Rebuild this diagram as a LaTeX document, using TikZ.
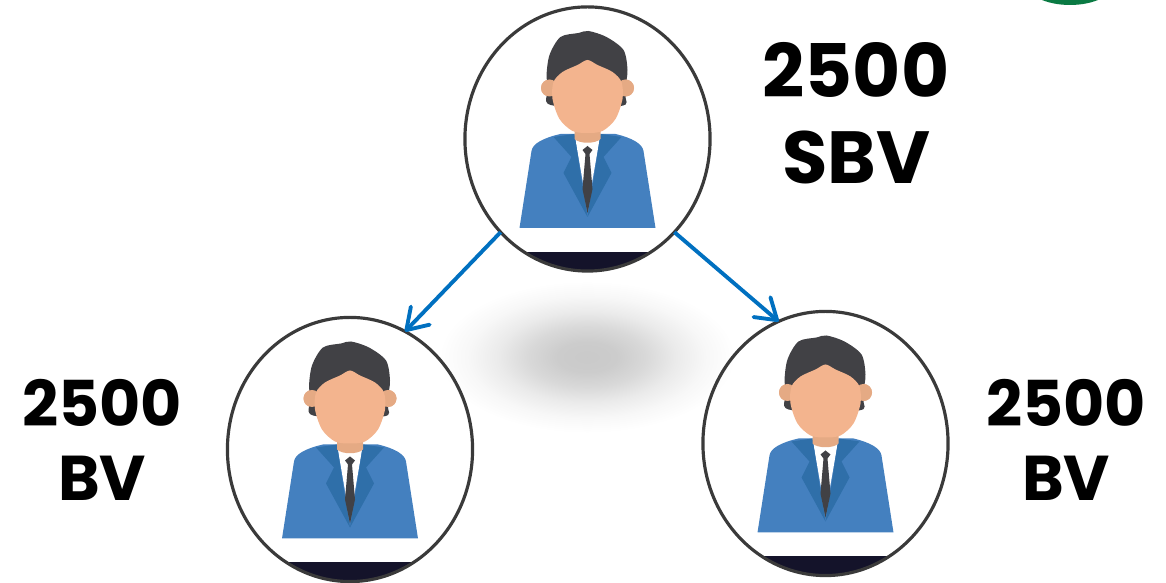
\documentclass[tikz,border=0pt]{standalone}
\usepackage{fontspec}
\setmainfont{Poppins}
\usetikzlibrary{arrows.meta,shapes.geometric}
\definecolor{jacketblue}{HTML}{4480BF}
\definecolor{lapelblue}{HTML}{2F6FA9}
\definecolor{hairgray}{HTML}{414145}
\definecolor{skin}{HTML}{F3B48E}
\definecolor{skindark}{HTML}{E5AA84}
\definecolor{bandnavy}{HTML}{14132A}
\definecolor{ringgray}{HTML}{3A3A3A}
\definecolor{arrowblue}{HTML}{0070C0}
\definecolor{logogreen}{HTML}{0A7A43}
\pgfdeclareradialshading{softblur}{\pgfpoint{0bp}{0bp}}{color(0bp)=(black!21); color(5bp)=(black!20); color(10bp)=(black!15); color(15bp)=(black!8); color(20bp)=(black!3); color(25bp)=(white); color(50bp)=(white)}
\tikzset{
	ring/.style={draw=ringgray,line width=0.9pt,ellipse,minimum width=2.45cm,minimum height=2.64cm,outer sep=0pt,inner sep=0pt},
	link/.style={draw=arrowblue,line width=1.1pt,-{Straight Barb[length=2mm,width=2.6mm,line width=1.1pt,round]}},
	bigvalue/.style={font=\fontsize{21}{25}\selectfont\bfseries,inner sep=0pt},
	smallvalue/.style={font=\fontsize{18}{22}\selectfont\bfseries,inner sep=0pt},
	person/.pic={
		\begin{scope}
			\clip (0,0) ellipse [x radius=122,y radius=132];
			\fill[bandnavy] (-130,113) rectangle (130,140);
		\end{scope}
		\fill[skindark] (-38,-51) circle [radius=8.5] (38,-51) circle [radius=8.5];
		\fill[hairgray] plot[smooth cycle] coordinates {(-37,-34) (-38,-52) (-41,-62) (-38,-84) (-27,-102) (-9,-106) (1,-108) (19,-102) (36,-89) (40,-69) (38,-52) (38,-42) (33,-33)};
		\fill[skindark] (-38,-51) circle [radius=8.5] (38,-51) circle [radius=8.5];
		\fill[jacketblue] (-68,89) -- (-56,12) .. controls (-55,5) and (-45,-1) .. (-27,-5) -- (28,-5) .. controls (45,-1) and (55,5) .. (56,12) -- (68,89) -- cycle;
		\fill[white] (-13,-5) -- (13,-5) -- (0,70) -- cycle;
		\fill[lapelblue] (-34,-2) -- (-13,-5) -- (-6,41) -- (0,78) -- (-24,34) -- (-16,18) -- cycle;
		\fill[lapelblue] (34,-2) -- (13,-5) -- (6,41) -- (0,78) -- (24,34) -- (16,18) -- cycle;
		\fill[skindark] (-13,-12) -- (13,-12) -- (13,0) .. controls (8,5) and (-8,5) .. (-13,0) -- cycle;
		\fill[skin] plot[smooth cycle] coordinates {(0,-79) (-10,-74) (-25,-67) (-34,-57) (-35,-40) (-28,-20) (-15,-8) (0,-6) (15,-8) (28,-20) (35,-40) (34,-57) (25,-67) (10,-74)};
		\fill[hairgray] (0,7) -- (5,11) -- (2,15) -- (5,50) -- (0,74) -- (-5,50) -- (-2,15) -- (-5,11) -- cycle;
	}
}
\begin{document}
\begin{tikzpicture}[x=0.01cm,y=-0.01cm]
	\useasboundingbox (0,0) rectangle (1166,583);
	\clip (0,0) rectangle (1166,583);
	\fill[logogreen] (1070,-18) ellipse [x radius=45,y radius=23];
	\shade[shading=softblur] (587,357) ellipse [x radius=148,y radius=76];
	\pic at (587.5,139) {person};
	\pic at (350,449.5) {person};
	\pic at (825.5,443.5) {person};
	\node[ring] (boss) at (587.5,139) {};
	\node[ring] (leftleg) at (350,449.5) {};
	\node[ring] (rightleg) at (825.5,443.5) {};
	\draw[link] (boss.227) -- (leftleg.65);
	\draw[link] (boss.-47) -- (rightleg.111);
	\node[bigvalue] (bossbv) at (856,70) {2500};
	\node[bigvalue] (bosslabel) at (856,157) {SBV};
	\node[smallvalue] (leftbv) at (102,403) {2500};
	\node[smallvalue] (leftlabel) at (102,478) {BV};
	\node[smallvalue] (rightbv) at (1066,403) {2500};
	\node[smallvalue] (rightlabel) at (1066,478) {BV};
\end{tikzpicture}
\end{document}
